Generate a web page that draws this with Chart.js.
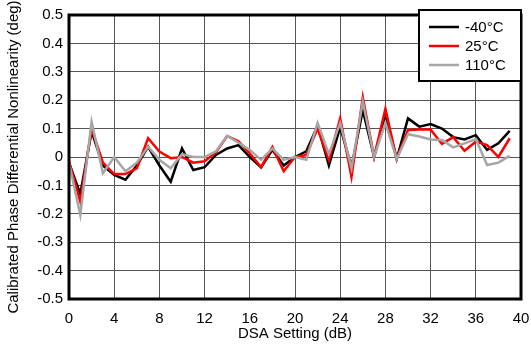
<!DOCTYPE html>
<html>
<head>
<meta charset="utf-8">
<script src="https://cdn.jsdelivr.net/npm/chart.js@4"></script>
<style>
  html, body { margin: 0; padding: 0; background: #fff; }
  #wrap { width: 531px; height: 347px; }
</style>
</head>
<body>
<div id="wrap"><canvas id="c" width="531" height="347"></canvas></div>
<script>
// DSA setting (dB)
const dsa = [0,1,2,3,4,5,6,7,8,9,10,11,12,13,14,15,16,17,18,19,
             20,21,22,23,24,25,26,27,28,29,30,31,32,33,34,35,36,37,38,39];

// calibrated phase DNL (deg)
const tMinus40 = [-0.02,-0.13,0.09,-0.03,-0.063,-0.08,-0.03,0.036,-0.03,-0.087,
                  0.03,-0.046,-0.036,0.007,0.03,0.042,0.0,-0.036,0.025,-0.03,
                  0.0,0.02,0.11,-0.03,0.105,-0.035,0.165,0.0,0.148,-0.007,
                  0.136,0.107,0.116,0.1,0.07,0.062,0.077,0.025,0.048,0.092];
const t25      = [-0.016,-0.157,0.1,-0.02,-0.06,-0.06,-0.04,0.066,0.019,-0.004,
                  0.0,-0.02,-0.015,0.016,0.074,0.055,0.013,-0.036,0.035,-0.05,
                  0.0,0.007,0.1,-0.01,0.136,-0.07,0.21,0.0,0.17,-0.007,
                  0.095,0.097,0.097,0.046,0.07,0.022,0.054,0.042,0.0,0.066];
const t110     = [-0.02,-0.204,0.124,-0.057,0.0,-0.05,-0.02,0.036,-0.01,-0.04,
                  0.01,0.0,0.0,0.02,0.074,0.05,0.025,-0.01,0.03,-0.01,
                  0.0,-0.01,0.12,0.01,0.12,-0.04,0.195,0.0,0.12,-0.007,
                  0.08,0.072,0.062,0.06,0.034,0.048,0.063,-0.028,-0.02,0.004];

const seriesNames = ['-40°C', '25°C', '110°C'];
const xTicks = [0,4,8,12,16,20,24,28,32,36,40];
const yTicks = [-0.5,-0.4,-0.3,-0.2,-0.1,0,0.1,0.2,0.3,0.4,0.5];

const FONT = 'Arial, "Liberation Sans", sans-serif';

const mk = (label, data, color, order) => ({
  label,
  data: dsa.map((x, i) => ({ x, y: data[i] })),
  borderColor: color,
  backgroundColor: color,
  borderWidth: 2.5,
  pointRadius: 0,
  tension: 0,
  fill: false,
  order
});

// frame + boxed legend inside the plot, top right
const framePlugin = {
  id: 'frame',
  afterDraw(chart) {
    const { ctx, chartArea: a } = chart;
    ctx.save();
    ctx.strokeStyle = '#000';
    ctx.lineWidth = 3;
    ctx.strokeRect(a.left, a.top, a.right - a.left, a.bottom - a.top);

    const bw = 102, bx = a.right - bw, by = 10, bh = 71;
    ctx.fillStyle = '#fff';
    ctx.fillRect(bx, by, bw, bh);
    ctx.lineWidth = 2;
    ctx.strokeRect(bx, by, bw, bh);
    ctx.font = '15px ' + FONT;
    ctx.textBaseline = 'middle';
    chart.data.datasets.forEach((ds, i) => {
      const y = by + 17 + i * 19;
      ctx.strokeStyle = ds.borderColor;
      ctx.lineWidth = 2.5;
      ctx.beginPath();
      ctx.moveTo(bx + 10, y);
      ctx.lineTo(bx + 40, y);
      ctx.stroke();
      ctx.fillStyle = '#000';
      ctx.fillText(ds.label, bx + 46, y + 1);
    });
    ctx.restore();
  }
};

new Chart(document.getElementById('c'), {
  type: 'line',
  data: {
    datasets: [
      mk(seriesNames[0], tMinus40, '#000000', 2),
      mk(seriesNames[1], t25, '#ff0000', 1),
      mk(seriesNames[2], t110, '#a6a6a6', 0)
    ]
  },
  options: {
    responsive: false,
    animation: false,
    layout: { padding: { top: 15, right: 10, left: 5, bottom: 0 } },
    plugins: { legend: { display: false }, tooltip: { enabled: false } },
    scales: {
      x: {
        type: 'linear', min: 0, max: 40,
        afterBuildTicks: s => { s.ticks = xTicks.map(v => ({ value: v })); },
        afterFit: s => { s.height = 48; s.paddingLeft = 0; s.paddingRight = 0; },
        ticks: { color: '#000', font: { size: 15, family: FONT }, padding: 11, maxRotation: 0 },
        grid: { color: '#555', lineWidth: 1, drawTicks: false },
        border: { display: false },
        title: { display: true, text: 'DSA Setting (dB)', color: '#000',
                 font: { size: 15, family: FONT }, padding: { top: 0, bottom: 4 } }
      },
      y: {
        min: -0.5, max: 0.5,
        afterBuildTicks: s => { s.ticks = yTicks.map(v => ({ value: v })); },
        afterFit: s => { s.width = 64; s.paddingTop = 0; s.paddingBottom = 0; },
        ticks: { color: '#000', font: { size: 15, family: FONT }, padding: 6,
                 callback: v => (Math.round(v * 10) / 10).toString() },
        grid: { color: '#555', lineWidth: 1, drawTicks: false },
        border: { display: false },
        title: { display: true, text: 'Calibrated Phase Differential Nonlinearity (deg)', color: '#000',
                 font: { size: 15, family: FONT }, padding: { top: 0, bottom: 0 } }
      }
    }
  },
  plugins: [framePlugin]
});
</script>
</body>
</html>
